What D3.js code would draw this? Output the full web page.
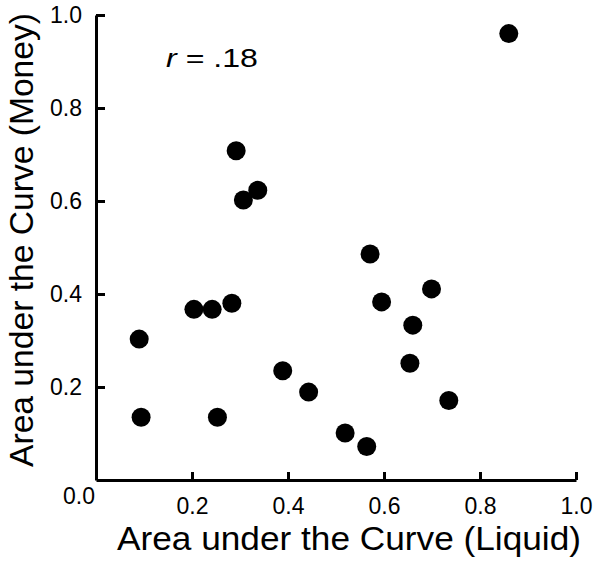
<!DOCTYPE html>
<meta charset="utf-8">
<script src="https://d3js.org/d3.v7.js"></script>
<style>
  body { margin: 0; background: #fff; }
  text { font-family: Arial, "Liberation Sans", sans-serif; fill: #000; }
</style>
<div id="chart"></div>
<script>

// AUC for liquid (x) and money (y), one entry per participant
var liquid = [0.860, 0.292, 0.307, 0.337, 0.571, 0.204, 0.242, 0.283, 0.595, 0.699,
              0.660, 0.090, 0.389, 0.654, 0.443, 0.735, 0.094, 0.253, 0.519, 0.564];
var money  = [0.960, 0.708, 0.602, 0.623, 0.486, 0.367, 0.367, 0.380, 0.383, 0.411,
              0.333, 0.303, 0.235, 0.251, 0.189, 0.171, 0.135, 0.135, 0.101, 0.072];

var tickVals = [0.2, 0.4, 0.6, 0.8, 1.0];
var originLabel = "0.0";
var xTitle = "Area under the Curve (Liquid)";
var yTitle = "Area under the Curve (Money)";
var rValue = ".18";

var W = 600, H = 563;
var margin = {top: 15, right: 24, bottom: 83, left: 96};
var width = W - margin.left - margin.right,
    height = H - margin.top - margin.bottom;

var svg = d3.select("#chart")
  .append("svg")
    .attr("width", W)
    .attr("height", H);

var g = svg.append("g")
    .attr("transform", "translate(" + margin.left + "," + margin.top + ")");

var x = d3.scaleLinear().domain([0, 1]).range([0, width]);
var y = d3.scaleLinear().domain([0, 1]).range([height, 0]);

var xAxis = g.append("g")
  .attr("transform", "translate(0," + height + ")")
  .call(d3.axisBottom(x)
    .tickValues(tickVals)
    .tickFormat(d3.format(".1f"))
    .tickSizeInner(-8)
    .tickSizeOuter(0)
    .tickPadding(18));

var yAxis = g.append("g")
  .call(d3.axisLeft(y)
    .tickValues(tickVals)
    .tickFormat(d3.format(".1f"))
    .tickSizeInner(-9)
    .tickSizeOuter(0)
    .tickPadding(14));

[xAxis, yAxis].forEach(function(a) {
  a.select(".domain").attr("stroke", "#000").attr("stroke-width", 3);
  a.selectAll(".tick line").attr("stroke", "#000").attr("stroke-width", 3);
  a.selectAll(".tick text")
    .attr("font-family", "Arial, 'Liberation Sans', sans-serif")
    .attr("font-size", 23)
    .attr("fill", "#000");
});

// shared origin label in the corner
g.append("text")
  .attr("x", x(0) - 17)
  .attr("y", y(0) + 24)
  .attr("text-anchor", "middle")
  .attr("font-size", 23)
  .text(originLabel);

g.selectAll("circle")
  .data(liquid.map(function(v, i) { return [v, money[i]]; }))
  .enter()
  .append("circle")
    .attr("cx", function(d) { return x(d[0]); })
    .attr("cy", function(d) { return y(d[1]); })
    .attr("r", 9.5)
    .attr("fill", "#000");

svg.append("text")
  .attr("x", 349)
  .attr("y", 550)
  .attr("text-anchor", "middle")
  .attr("font-size", 33)
  .attr("textLength", 464)
  .attr("lengthAdjust", "spacingAndGlyphs")
  .text(xTitle);

svg.append("text")
  .attr("transform", "translate(33,240) rotate(-90)")
  .attr("text-anchor", "middle")
  .attr("font-size", 33)
  .attr("textLength", 454)
  .attr("lengthAdjust", "spacingAndGlyphs")
  .text(yTitle);

var rt = svg.append("text")
  .attr("x", 166)
  .attr("y", 67)
  .attr("font-size", 26)
  .attr("textLength", 92)
  .attr("lengthAdjust", "spacingAndGlyphs");
rt.append("tspan").attr("font-style", "italic").text("r");
rt.append("tspan").text(" = " + rValue);

</script>
